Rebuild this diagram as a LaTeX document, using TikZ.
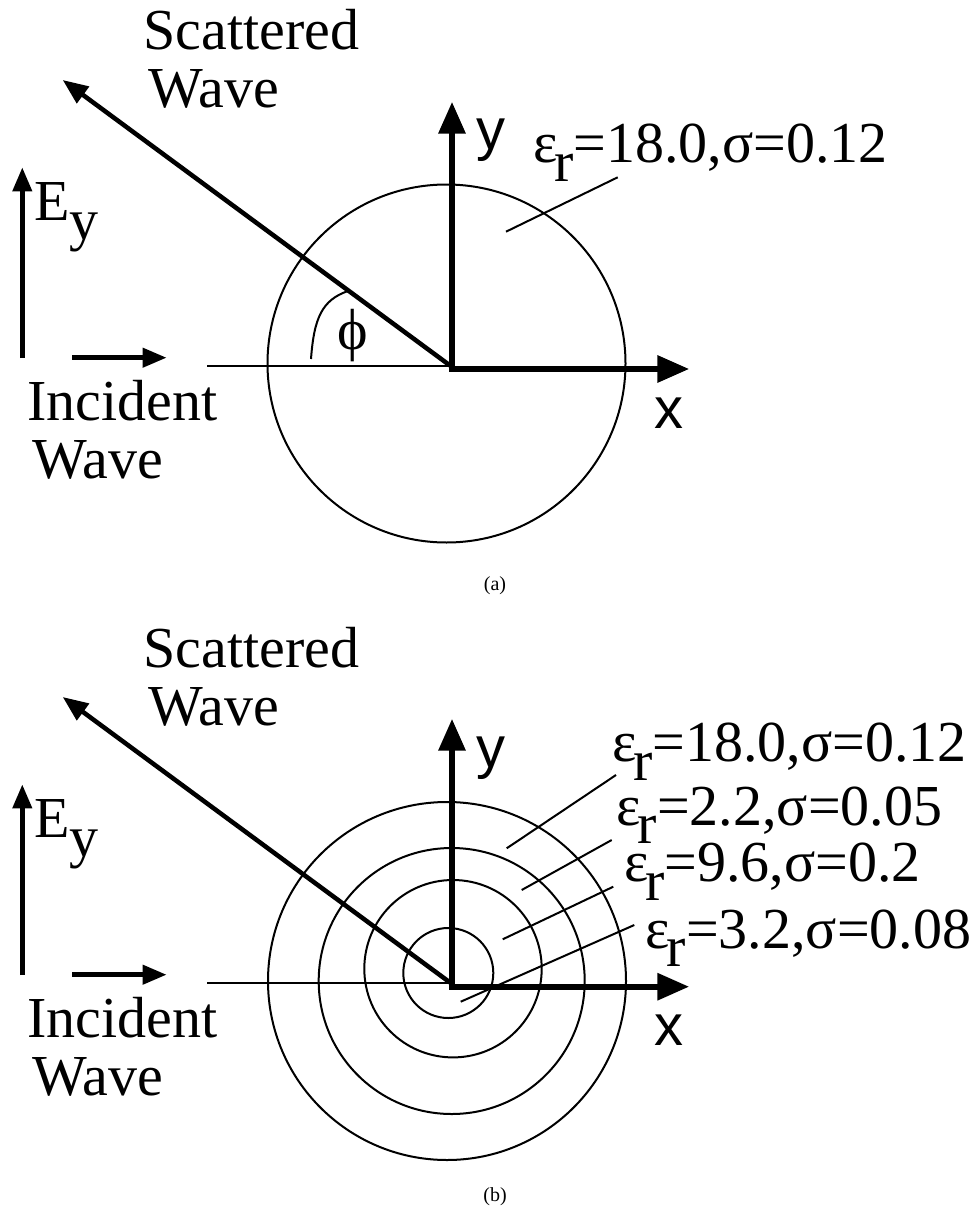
\documentclass[tikz,border=0pt]{standalone}
\usepackage{fontspec}
\setmainfont{Liberation Serif}
\setsansfont{Liberation Sans}
\usetikzlibrary{arrows.meta}
\newcommand\epsr{ε\kern-0.06em\raisebox{-0.32em}{r}}
\begin{document}
\begin{tikzpicture}[x=0.75pt,y=-0.75pt,
  thinline/.style={line width=1.5pt},
  axes/.style={line width=4.7pt,line join=miter,
    {Triangle[width=19.5pt,length=24pt]}-{Triangle[width=19.5pt,length=24pt]}},
  scat/.style={line width=3.4pt,-{Triangle[width=15pt,length=19pt]}},
  fieldarrow/.style={line width=3.7pt,-{Triangle[width=14pt,length=18pt]}},
  lbl/.style={inner sep=0pt,anchor=base west,font=\fontsize{43.5}{52}\selectfont},
  axlbl/.style={inner sep=0pt,anchor=base west,font=\sffamily\fontsize{43.5}{52}\selectfont},
  capt/.style={inner sep=0pt,anchor=base,font=\fontsize{15}{18}\selectfont}]
\useasboundingbox (0,0) rectangle (976,1209);

% ---------------- panel (a) ----------------
\coordinate (Oa) at (452,369);
\coordinate (Ya) at (452,101.7);
\coordinate (Xa) at (689.3,369);
\coordinate (Ca) at (446.5,363.5);
\coordinate (Ta) at (451,366);
\coordinate (La) at (207,366);
\coordinate (Sa) at (450,365.5);
\coordinate (STa) at (62.7,80);
\coordinate (Eb0) at (22.3,358);
\coordinate (Et0) at (22.3,167.3);
\coordinate (Ib0) at (72.3,357.7);
\coordinate (It0) at (166.7,357.7);
\coordinate (arcA1) at (311,359);
\coordinate (arcA2) at (348,291);
\coordinate (ldA1) at (506,231.7);
\coordinate (ldA2) at (617.7,177.3);

\draw[thinline] (Ca) circle[radius=179];
\draw[thinline] (La) -- (Ta);
\draw[scat] (Sa) -- (STa);
\draw[axes] (Ya) -- (Oa) -- (Xa);
\draw[fieldarrow] (Eb0) -- (Et0);
\draw[fieldarrow] (Ib0) -- (It0);
\draw[thinline] (arcA1) .. controls (314,318) and (322,300) .. (arcA2);
\draw[thinline] (ldA1) -- (ldA2);

\node[lbl] (scatA1) at (143,50) {Scattered};
\node[lbl] (scatA2) at (148,108) {Wave};
\node[lbl] (EyA) at (34,220.7) {E\raisebox{-0.33em}{y}};
\node[lbl] (incA1) at (27,420.7) {Incident};
\node[lbl] (incA2) at (32,478) {Wave};
\node[lbl,anchor=base] (phiA) at (352.5,349.5) {ϕ};
\node[lbl] (epsA) at (533,162.7) {\epsr=18.0,σ=0.12};
\node[axlbl] (yA) at (476,150) {y};
\node[axlbl] (xA) at (654,428) {x};
\node[capt] (capA) at (495,590) {(a)};

% ---------------- panel (b) ----------------
\coordinate (Ob) at (452,986.7);
\coordinate (Yb) at (452,718.7);
\coordinate (Xb) at (689.3,986.7);
\coordinate (C1) at (447,981);
\coordinate (C2) at (451.7,981);
\coordinate (C3) at (453,968.7);
\coordinate (C4) at (448.3,973);
\coordinate (Tb) at (451,983);
\coordinate (Lb) at (207,983);
\coordinate (Sb) at (450,982.5);
\coordinate (STb) at (62.7,697);
\coordinate (Eb1) at (22.3,975);
\coordinate (Et1) at (22.3,784.3);
\coordinate (Ib1) at (72.3,974.7);
\coordinate (It1) at (166.7,974.7);
\coordinate (ld1a) at (506.7,848.3);
\coordinate (ld1b) at (616,775);
\coordinate (ld2a) at (521.7,890);
\coordinate (ld2b) at (611.7,840);
\coordinate (ld3a) at (502.7,939.3);
\coordinate (ld3b) at (613.3,886.7);
\coordinate (ld4a) at (460.7,1001.7);
\coordinate (ld4b) at (634.3,925);

\draw[thinline] (C1) circle[radius=179];
\draw[thinline] (C2) circle[radius=133];
\draw[thinline] (C3) circle[radius=88.7];
\draw[thinline] (C4) circle[radius=45];
\draw[thinline] (Lb) -- (Tb);
\draw[scat] (Sb) -- (STb);
\draw[axes] (Yb) -- (Ob) -- (Xb);
\draw[fieldarrow] (Eb1) -- (Et1);
\draw[fieldarrow] (Ib1) -- (It1);
\draw[thinline] (ld1a) -- (ld1b);
\draw[thinline] (ld2a) -- (ld2b);
\draw[thinline] (ld3a) -- (ld3b);
\draw[thinline] (ld4a) -- (ld4b);

\node[lbl] (scatB1) at (143,667) {Scattered};
\node[lbl] (scatB2) at (148,725) {Wave};
\node[lbl] (EyB) at (34,837.7) {E\raisebox{-0.33em}{y}};
\node[lbl] (incB1) at (27,1037.7) {Incident};
\node[lbl] (incB2) at (32,1095.7) {Wave};
\node[lbl] (eps1) at (612,761.7) {\epsr=18.0,σ=0.12};
\node[lbl] (eps2) at (616.7,825) {\epsr=2.2,σ=0.05};
\node[lbl] (eps3) at (624,881.7) {\epsr=9.6,σ=0.2};
\node[lbl] (eps4) at (645.7,948.3) {\epsr=3.2,σ=0.08};
\node[axlbl] (yB) at (476,767) {y};
\node[axlbl] (xB) at (654,1045) {x};
\node[capt] (capB) at (495,1201.5) {(b)};
\end{tikzpicture}
\end{document}
